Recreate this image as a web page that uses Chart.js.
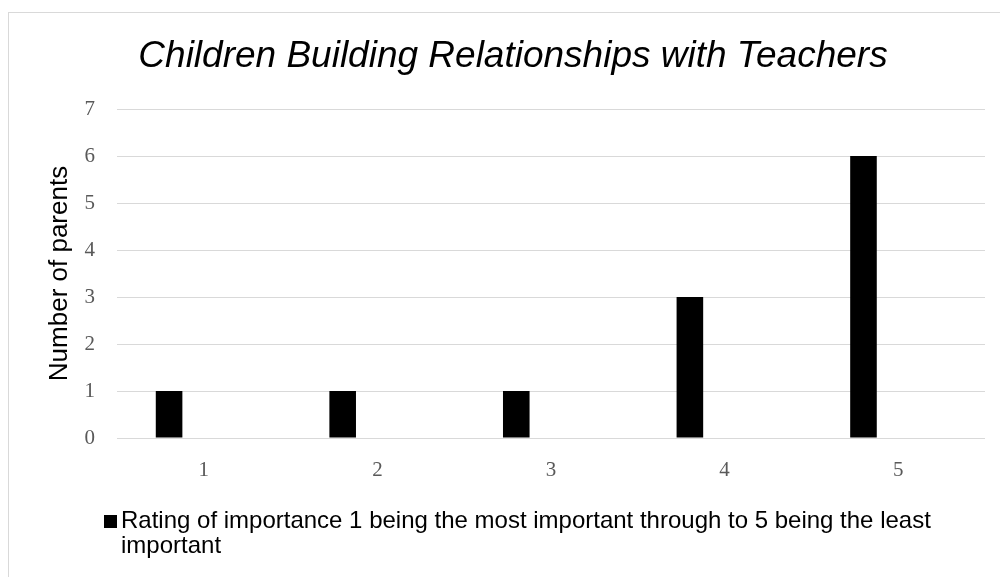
<!DOCTYPE html>
<html><head><meta charset="utf-8">
<script src="https://cdn.jsdelivr.net/npm/chart.js@4/dist/chart.umd.min.js"></script>
<style>
html,body{margin:0;padding:0;background:#fff;overflow:hidden;width:1000px;height:577px}
#frame{position:absolute;left:8px;top:12px;width:1000px;height:600px;border:1px solid #d9d9d9;}
canvas{position:absolute;left:0;top:0}
</style></head>
<body>
<div id="frame"></div>
<canvas id="c" width="1000" height="577"></canvas>
<script>
const chartTitle = 'Children Building Relationships with Teachers';
const yAxisTitle = 'Number of parents';
const categories = ['1', '2', '3', '4', '5'];
const parentCounts = [1, 1, 1, 3, 6];
const emptySeries = [null, null, null, null, null];
const seriesLabel = 'Rating of importance 1 being the most important through to 5 being the least important';
const legendLines = ['Rating of importance 1 being the most important through to 5 being the least', 'important'];
const yMin = 0, yMax = 7, yStep = 1;

const legendPlugin = {
  id: 'wrappedLegend',
  afterDraw(chart) {
    const ctx = chart.ctx;
    ctx.save();
    ctx.fillStyle = '#000';
    ctx.fillRect(104, 515, 13, 13);
    ctx.font = '24px "Liberation Sans", Arial, sans-serif';
    ctx.textBaseline = 'alphabetic';
    ctx.textAlign = 'left';
    ctx.fillText(legendLines[0], 121, 528);
    ctx.fillText(legendLines[1], 121, 553);
    ctx.restore();
  }
};

new Chart(document.getElementById('c'), {
  type: 'bar',
  data: {
    labels: categories,
    datasets: [
      { label: seriesLabel, data: parentCounts, backgroundColor: '#000000', borderWidth: 0,
        categoryPercentage: 0.8, barPercentage: 0.383 },
      { label: '', data: emptySeries, backgroundColor: '#000000', borderWidth: 0,
        categoryPercentage: 0.8, barPercentage: 0.383 }
    ]
  },
  options: {
    responsive: false,
    devicePixelRatio: 1,
    animation: false,
    layout: { padding: { left: 41, right: 15, top: 0, bottom: 79 } },
    plugins: {
      legend: { display: false },
      tooltip: { enabled: false },
      title: {
        display: true,
        text: chartTitle,
        color: '#000',
        font: { family: '"Liberation Sans", Arial, sans-serif', size: 37, style: 'italic', weight: 'normal', lineHeight: 1.2 },
        padding: { top: 34.8, bottom: 29.8 }
      }
    },
    scales: {
      x: {
        grid: { display: false },
        border: { display: false },
        ticks: { color: '#595959', padding: 12, font: { family: '"Liberation Serif", serif', size: 21 } },
        afterFit(scale) { scale.height = 60; }
      },
      y: {
        min: yMin, max: yMax,
        grid: { color: '#d9d9d9', lineWidth: 1, drawTicks: false },
        border: { display: false },
        ticks: { stepSize: yStep, color: '#595959', padding: 22, font: { family: '"Liberation Serif", serif', size: 21 } },
        title: { display: true, text: yAxisTitle, color: '#000', padding: { top: 3, bottom: 0 },
          font: { family: '"Liberation Sans", Arial, sans-serif', size: 26, weight: 'normal' } },
        afterFit(scale) { scale.width = 76; }
      }
    }
  },
  plugins: [legendPlugin]
});
</script>
</body></html>
